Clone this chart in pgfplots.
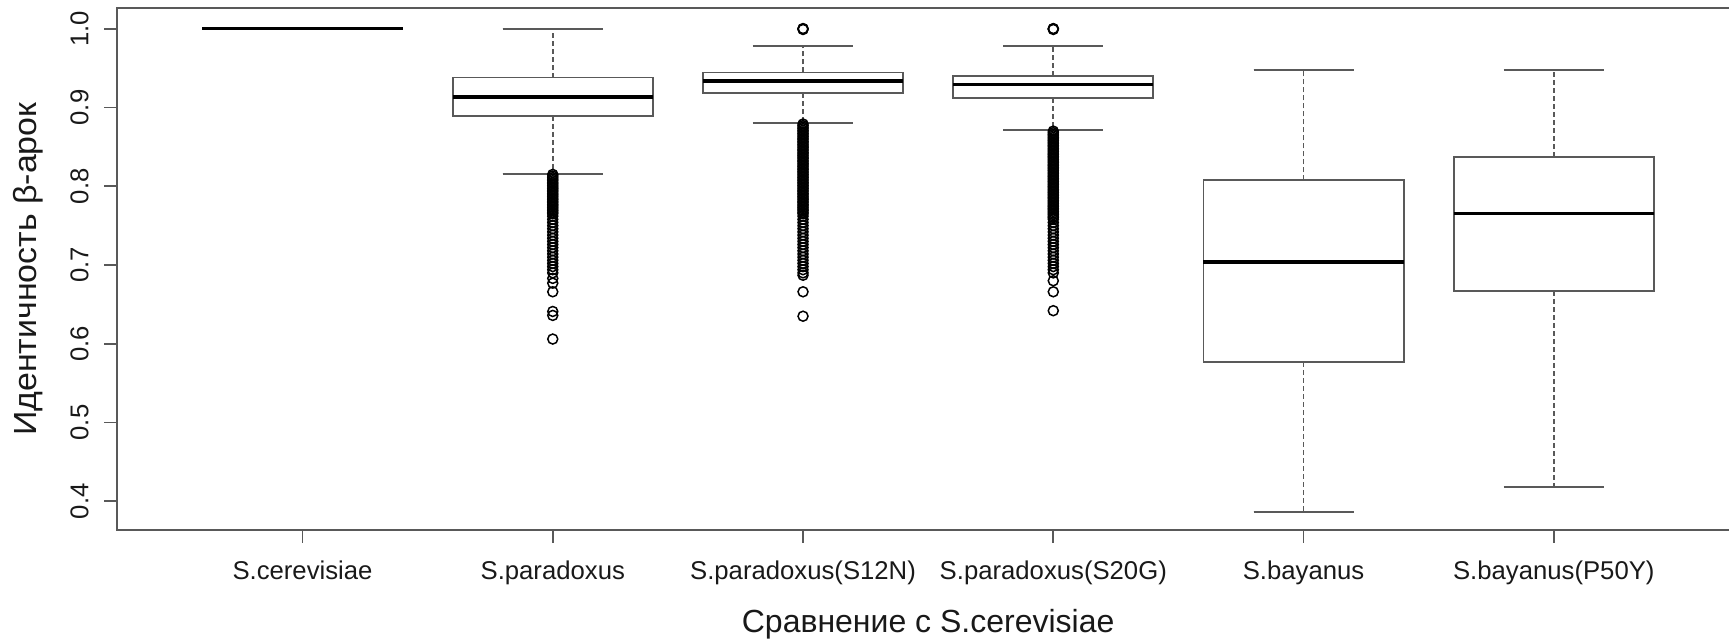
\documentclass[border=0pt]{standalone}
\usepackage{fontspec}
\setmainfont{Liberation Sans}
\newfontfamily\ylabfont[FakeStretch=1.06]{Liberation Sans}
\usepackage{pgfplots}
\pgfplotsset{compat=1.18}
\usepgfplotslibrary{statistics}
\pgfplotsset{
  /pgfplots/boxplot/every box/.style={draw=black!65, line width=0.9pt, fill=white, solid},
  /pgfplots/boxplot/every whisker/.style={draw=black!65, line width=0.9pt, dash pattern=on 2.5pt off 1.5pt},
  /pgfplots/boxplot/every median/.style={draw=black, line width=1.7pt, solid},
  cap/.style={black!65, line width=0.9pt, solid, no marks, forget plot},
}
\begin{document}
\begin{tikzpicture}
\path[use as bounding box] (0,0) rectangle (864.5pt,320.5pt);
\begin{axis}[
  anchor=south west, at={(58.65pt,55.5pt)},
  scale only axis, width=810.85pt, height=260.85pt,
  xmin=0.26, xmax=6.74, ymin=0.3636, ymax=1.0259,
  axis line style={black!65, line width=0.9pt},
  tick align=outside, tick pos=left, major tick length=6.5pt,
  tick style={black!65, line width=0.9pt},
  xtick={1,2,3,4,5,6},
  xticklabels={S.cerevisiae, S.paradoxus, S.paradoxus(S12N), S.paradoxus(S20G), S.bayanus, S.bayanus(P50Y)},
  ytick={0.4,0.5,0.6,0.7,0.8,0.9,1.0},
  yticklabels={0.4,0.5,0.6,0.7,0.8,0.9,1.0},
  ticklabel style={font=\fontsize{12.85}{15}\selectfont, text=black!90},
  xticklabel style={anchor=base},
  xticklabel shift=18.5pt,
  yticklabel style={rotate=90, anchor=base},
  yticklabel shift=8pt,
  xlabel={Сравнение с S.cerevisiae},
  ylabel={Идентичность β-арок},
  every axis x label/.style={at={([yshift=-51.35pt]axis description cs:0.5,0)}, anchor=base, font=\fontsize{16}{19}\selectfont, text=black!90},
  every axis y label/.style={at={([xshift=-40.3pt]axis description cs:0,0.5)}, rotate=90, anchor=base, font=\ylabfont\fontsize{16}{19}\selectfont, text=black!90},
  boxplot/draw direction=y,
  boxplot/box extend=0.8,
  boxplot/whisker extend=0.4,
]
% S.cerevisiae
\addplot[boxplot prepared={draw position=1, lower whisker=1.0, lower quartile=1.0, median=1.0, upper quartile=1.0, upper whisker=1.0}] coordinates {};
% S.paradoxus
\addplot[boxplot prepared={draw position=2, lower whisker=0.816, lower quartile=0.8893, median=0.9135, upper quartile=0.938, upper whisker=1.0},
  mark=o, mark size=2.5pt, mark options={draw=black, line width=0.75pt, solid}]
  table[row sep=\\, y index=0, header=false] {
0.815\\0.813\\0.811\\0.809\\0.807\\0.805\\0.803\\0.801\\0.799\\0.797\\0.795\\0.793\\0.791\\0.789\\0.787\\0.785\\0.783\\0.781\\0.779\\0.777\\0.775\\0.773\\0.771\\0.769\\0.767\\0.765\\
0.762\\0.758\\0.754\\0.750\\0.746\\0.742\\0.738\\0.734\\0.730\\0.726\\0.722\\0.718\\0.714\\0.710\\0.706\\0.702\\0.698\\0.694\\0.690\\
0.683\\0.677\\0.666\\0.641\\0.636\\0.606\\
};
% S.paradoxus(S12N)
\addplot[boxplot prepared={draw position=3, lower whisker=0.880, lower quartile=0.918, median=0.9335, upper quartile=0.9445, upper whisker=0.978},
  mark=o, mark size=2.5pt, mark options={draw=black, line width=0.75pt, solid}]
  table[row sep=\\, y index=0, header=false] {
1.000\\0.9990\\1.000\\
0.879\\0.877\\0.875\\0.873\\0.871\\0.869\\0.867\\0.865\\0.863\\0.861\\0.859\\0.857\\0.855\\0.853\\0.851\\0.849\\0.847\\0.845\\0.843\\0.841\\
0.839\\0.837\\0.835\\0.833\\0.831\\0.829\\0.827\\0.825\\0.823\\0.821\\0.819\\0.817\\0.815\\0.813\\0.811\\0.809\\0.807\\0.805\\0.803\\0.801\\
0.799\\0.797\\0.795\\0.793\\0.791\\0.789\\0.787\\0.785\\0.783\\0.781\\0.779\\0.777\\0.775\\0.773\\0.771\\0.769\\0.767\\0.765\\
0.762\\0.758\\0.754\\0.750\\0.746\\0.742\\0.738\\0.734\\0.730\\0.726\\0.722\\0.718\\0.714\\0.710\\0.706\\0.702\\0.698\\0.694\\0.690\\0.687\\
0.666\\0.635\\
};
% S.paradoxus(S20G)
\addplot[boxplot prepared={draw position=4, lower whisker=0.8715, lower quartile=0.912, median=0.929, upper quartile=0.940, upper whisker=0.978},
  mark=o, mark size=2.5pt, mark options={draw=black, line width=0.75pt, solid}]
  table[row sep=\\, y index=0, header=false] {
1.000\\0.9990\\1.000\\
0.870\\0.868\\0.866\\0.864\\0.862\\0.860\\0.858\\0.856\\0.854\\0.852\\0.850\\0.848\\0.846\\0.844\\0.842\\0.840\\
0.838\\0.836\\0.834\\0.832\\0.830\\0.828\\0.826\\0.824\\0.822\\0.820\\0.818\\0.816\\0.814\\0.812\\0.810\\0.808\\
0.806\\0.804\\0.802\\0.800\\0.798\\0.796\\0.794\\0.792\\0.790\\0.788\\0.786\\0.784\\0.782\\0.780\\0.778\\0.776\\
0.774\\0.772\\0.770\\0.768\\0.766\\0.764\\0.762\\0.760\\0.758\\
0.754\\0.750\\0.746\\0.742\\0.738\\0.734\\0.730\\0.726\\0.722\\0.718\\0.714\\0.710\\0.706\\0.702\\0.698\\0.694\\0.690\\
0.680\\0.666\\0.642\\
};
% S.bayanus
\addplot[boxplot prepared={draw position=5, lower whisker=0.3868, lower quartile=0.5768, median=0.7036, upper quartile=0.8075, upper whisker=0.9475}] coordinates {};
% S.bayanus(P50Y)
\addplot[boxplot prepared={draw position=6, lower whisker=0.4182, lower quartile=0.6667, median=0.765, upper quartile=0.8372, upper whisker=0.9475}] coordinates {};
% solid whisker caps
\addplot[cap] coordinates {(1.8,1.0) (2.2,1.0)};
\addplot[cap] coordinates {(1.8,0.816) (2.2,0.816)};
\addplot[cap] coordinates {(2.8,0.978) (3.2,0.978)};
\addplot[cap] coordinates {(2.8,0.880) (3.2,0.880)};
\addplot[cap] coordinates {(3.8,0.978) (4.2,0.978)};
\addplot[cap] coordinates {(3.8,0.8715) (4.2,0.8715)};
\addplot[cap] coordinates {(4.8,0.9475) (5.2,0.9475)};
\addplot[cap] coordinates {(4.8,0.3868) (5.2,0.3868)};
\addplot[cap] coordinates {(5.8,0.9475) (6.2,0.9475)};
\addplot[cap] coordinates {(5.8,0.4182) (6.2,0.4182)};
\end{axis}
\end{tikzpicture}
\end{document}
